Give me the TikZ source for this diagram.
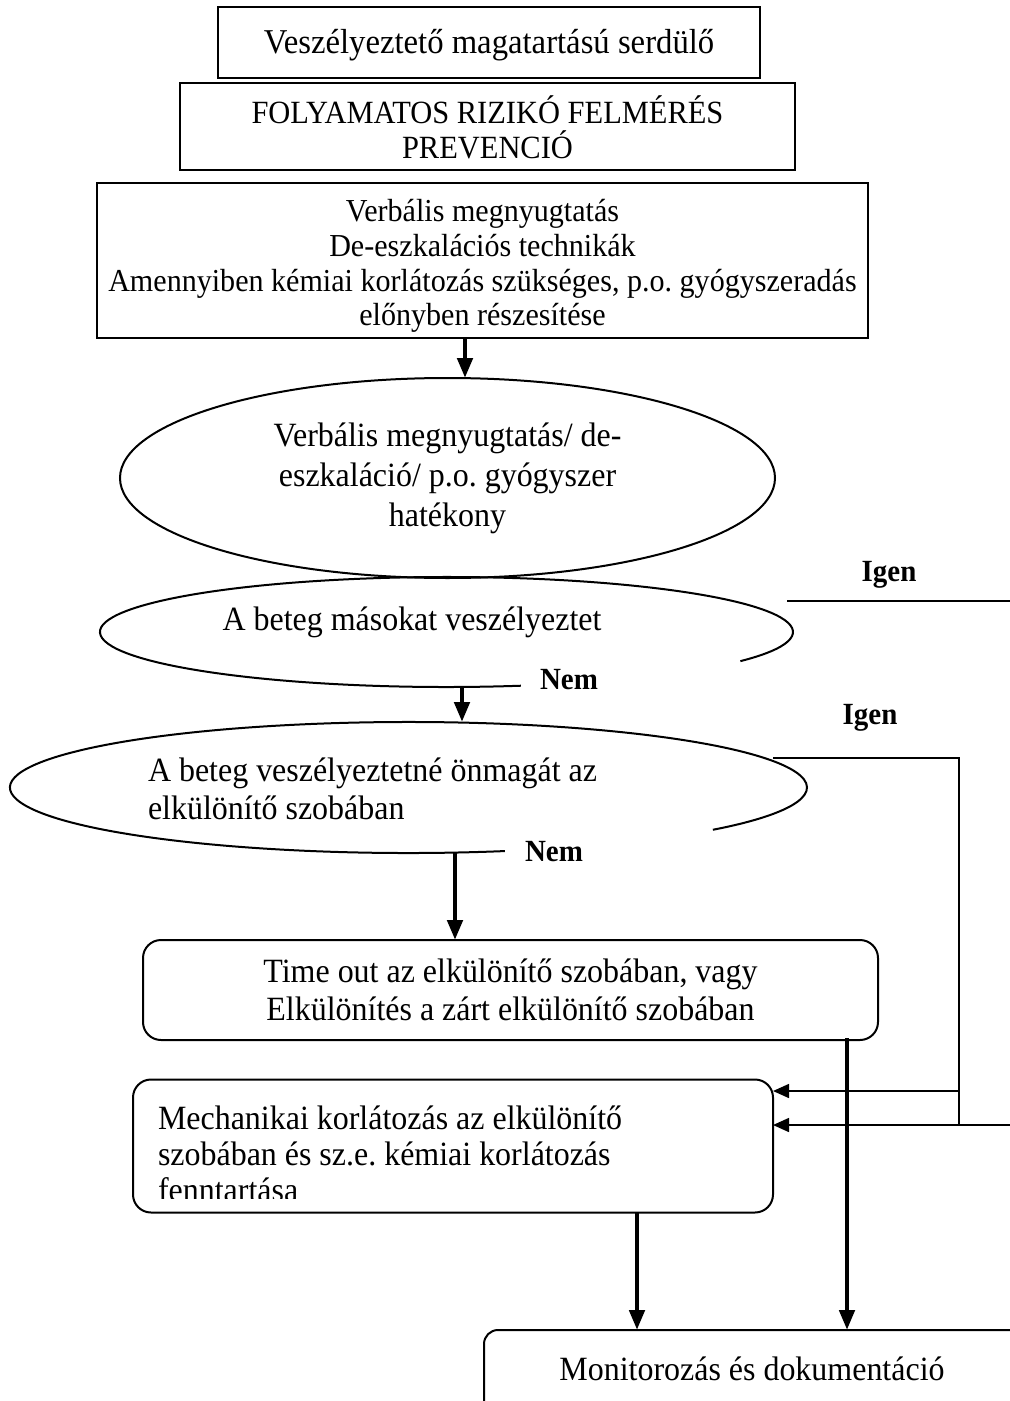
\documentclass[tikz,border=0pt]{standalone}
\usepackage{fontspec}
\setmainfont{Liberation Serif}[FakeStretch=0.94]
\usetikzlibrary{arrows.meta,shapes.geometric,calc}
\frenchspacing
\begin{document}
\begin{tikzpicture}[x=0.5pt,y=-0.5pt,
  every node/.style={font=\fontsize{17}{19}\selectfont, inner sep=0pt, outer sep=0pt},
  box/.style={draw, line width=1pt, rectangle},
  rbox/.style={draw, line width=1pt, rectangle, rounded corners=9pt},
  outline/.style={line width=1pt},
  bigarrow/.style={line width=2.3pt, -{Triangle[length=10pt,width=7.5pt]}},
  thinarrow/.style={line width=0.75pt, -{Triangle[length=8pt,width=7pt]}},
  thinline/.style={line width=0.75pt},
  lbl/.style={font=\fontsize{15.4}{17}\selectfont\bfseries}
]
\useasboundingbox (0,0) rectangle (1010,1401);
\clip (0,0) rectangle (1010,1401);

% top boxes
\node[box, minimum width=271pt, minimum height=35.5pt] (b1) at (489,42.5) {};
\node[font=\fontsize{17.4}{19}\selectfont] (b1t) at (489,45) {Veszélyeztető magatartású serdülő};
\node[box, minimum width=307.5pt, minimum height=43.5pt, align=center, font=\fontsize{16.2}{17.5}\selectfont] (b2) at (487.5,127) {FOLYAMATOS RIZIKÓ FELMÉRÉS\\PREVENCIÓ};
\node[box, minimum width=385.5pt, minimum height=77.5pt] (b3) at (482.5,260.5) {};
\node[align=center, font=\fontsize{16}{17.4}\selectfont] (b3t) at (482.5,266) {Verbális megnyugtatás\\De-eszkalációs technikák\\Amennyiben kémiai korlátozás szükséges, p.o. gyógyszeradás\\előnyben részesítése};

% ellipse 1
\node[ellipse, draw, outline, minimum width=327.5pt, minimum height=100pt, align=center, font=\fontsize{17}{20}\selectfont] (e1) at (447.5,478) {Verbális megnyugtatás/ de-\\eszkaláció/ p.o. gyógyszer\\hatékony};

% ellipse 2 (open arc)
\node[ellipse, minimum width=346.5pt, minimum height=55pt] (e2) at (446.5,632) {};
\draw[outline] (e2.center) ++(77.6:346.5 and 55) arc[start angle=77.6, end angle=392, x radius=346.5, y radius=55];
\node (t2) at (412,622) {A beteg másokat veszélyeztet};

% ellipse 3 (open arc)
\node[ellipse, minimum width=398.5pt, minimum height=65.5pt] (e3) at (408.5,787.5) {};
\draw[outline] (e3.center) ++(76:398.5 and 65.5) arc[start angle=76, end angle=400.2, x radius=398.5, y radius=65.5];
\node[align=left, anchor=west] (t3) at (148,789) {A beteg veszélyeztetné önmagát az\\elkülönítő szobában};

% labels
\node[lbl] (igen1) at (889,575) {Igen};
\node[lbl] (nem1) at (569,680) {Nem};
\node[lbl] (igen2) at (870,718) {Igen};
\node[lbl] (nem2) at (554,852) {Nem};

% rounded boxes
\node[rbox, minimum width=367.5pt, minimum height=50pt, align=center] (to) at (510.5,990) {Time out az elkülönítő szobában, vagy\\Elkülönítés a zárt elkülönítő szobában};

\node[rbox, minimum width=320pt, minimum height=66.5pt] (mk) at (453,1146) {};
\begin{scope}
  \clip (133,1080) rectangle (773,1198);
  \node[align=left, anchor=base west, font=\fontsize{17}{18}\selectfont] (mkt) at (158,1201) {Mechanikai korlátozás az elkülönítő\\szobában és sz.e. kémiai korlátozás\\fenntartása};
\end{scope}

\node[draw, line width=1pt, rounded corners=7pt, minimum width=273pt, minimum height=45pt] (mon) at (757,1375) {};
\node (mont) at (752,1369) {Monitorozás és dokumentáció};

% connectors
\coordinate (c1) at (465,0);
\coordinate (c2) at (462,0);
\coordinate (c3) at (455,0);
\coordinate (c4) at (847,0);
\coordinate (c5) at (637,0);
\draw[bigarrow] (b3.south -| c1) -- (e1.north -| c1);
\draw[bigarrow] (e2.south -| c2) -- (e3.north -| c2);
\draw[bigarrow] (e3.south -| c3) -- (to.north -| c3);
\draw[bigarrow] ([yshift=1pt]to.south -| c4) -- (mon.north -| c4);
\draw[bigarrow] (mk.south -| c5) -- (mon.north -| c5);

\coordinate (i1a) at (787,601);
\coordinate (i1b) at (1012,601);
\draw[thinline] (i1a) -- (i1b);

\coordinate (i2a) at (773,758);
\coordinate (i2c) at (959,758);
\coordinate (i2d) at (959,1125);
\coordinate (j1) at (959,1091);
\coordinate (j2) at (1012,1125);
\draw[thinline] (i2a) -- (i2c) -- (i2d);
\draw[thinarrow] (j1) -- (mk.east |- j1);
\draw[thinarrow] (j2) -- (mk.east |- j2);
\end{tikzpicture}
\end{document}
